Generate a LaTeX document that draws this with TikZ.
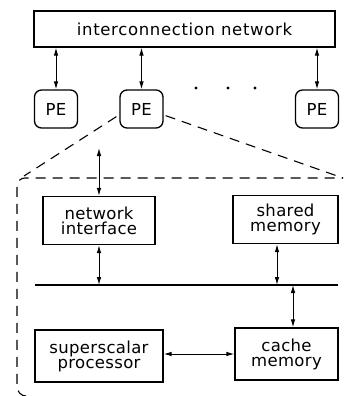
\documentclass[tikz,border=0pt]{standalone}
\usepackage{fontspec}
\setmainfont{DejaVu Sans}
\usetikzlibrary{arrows.meta,calc}
\tikzset{
  box/.style={draw, line width=1.3pt, inner sep=0pt, align=center,
    font=\fontsize{16.5}{15}\selectfont\addfontfeature{LetterSpace=2}},
  pebox/.style={box, rounded corners=7pt, minimum width=43pt, minimum height=38pt},
  biarrow/.style={{Latex[length=8pt,width=4.6pt]}-{Latex[length=8pt,width=4.6pt]}, line width=1pt},
  encl/.style={dashed, dash pattern=on 10pt off 7pt, line width=1.1pt},
}
\begin{document}
\begin{tikzpicture}[x=1pt,y=-1pt]
\useasboundingbox (0,0) rectangle (347,396);

% interconnection network and processing elements
\node[box, minimum width=301pt, minimum height=36pt,
  font=\fontsize{16.5}{15}\selectfont\addfontfeature{LetterSpace=4}] (net) at (184.5,29) {interconnection network};
\node[pebox] (pe1) at (56,109) {PE};
\node[pebox] (pe2) at (141.5,109) {PE};
\node[pebox] (pe3) at (317,109) {PE};
\foreach \p in {pe1,pe2,pe3}
  \draw[biarrow] (\p.north) -- (\p.north |- net.south);
\foreach \x [count=\i] in {196,228,255}
  \fill (\x,88) circle (1.6pt) coordinate (dot\i);

% expanded view of one PE
\coordinate (dl) at (24,176);
\coordinate (dr) at (343,178);
\draw[encl] ($(pe2.south west)+(-3,-12)$) -- (dl);
\draw[encl] ($(pe2.south east)+(2,-13)$) -- (dr);
\draw[encl] (26,396) to[out=180,in=270] (17,386) -- (17,186) to[out=90,in=180] (25,178) -- (dr);

\node[box, minimum width=112pt, minimum height=48pt] (ni) at (99,220.5) {network\\interface};
\node[box, minimum width=105pt, minimum height=48pt] (sm) at (285.5,219.5) {shared\\memory};
\node[box, minimum width=128pt, minimum height=52pt] (sp) at (99,356) {superscalar\\processor};
\node[box, minimum width=103pt, minimum height=52pt] (cm) at (286.5,354) {cache\\memory};

% memory bus
\coordinate (busL) at (35,285);
\coordinate (busR) at (338,285);
\draw[line width=2.4pt] (busL) -- (busR);

\coordinate (netin) at (99,148);
\coordinate (smA) at ($(sm.south)+(-8.5,0)$);
\coordinate (cmA) at ($(cm.north)+(6.5,0)$);
\draw[biarrow] (ni.north) -- (netin);
\draw[biarrow] (ni.south) -- (ni.south |- busL);
\draw[biarrow] (smA) -- (smA |- busL);
\draw[biarrow] (cmA) -- (cmA |- busL);
\draw[biarrow] (sp.east |- cm.west) -- (cm.west);
\end{tikzpicture}
\end{document}
